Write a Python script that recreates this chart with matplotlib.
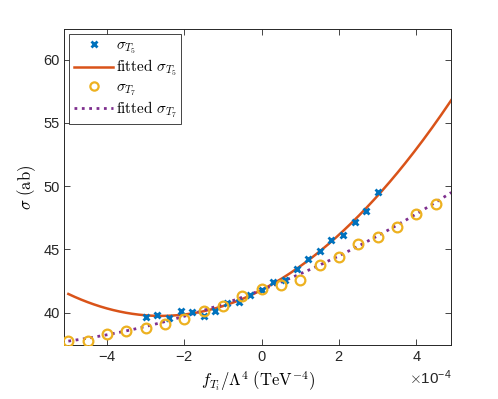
import numpy as np
import matplotlib
matplotlib.use("Agg")
import matplotlib.pyplot as plt
from matplotlib.ticker import ScalarFormatter

plt.rcParams['font.family'] = ['Liberation Sans', 'DejaVu Sans']
plt.rcParams['mathtext.fontset'] = 'cm'
plt.rcParams['axes.unicode_minus'] = False

# sigma_T5 data (x in units of 1e-4 TeV^-4)
x_t5 = [-3.0, -2.7, -2.4, -2.1, -1.8, -1.5, -1.2, -0.9, -0.6, -0.3, 0.0,
        0.3, 0.6, 0.9, 1.2, 1.5, 1.8, 2.1, 2.4, 2.7, 3.0]
y_t5 = [39.64, 39.84, 39.58, 40.12, 40.05, 39.76, 40.13, 40.74, 40.84, 41.40, 41.79,
        42.42, 42.58, 43.45, 44.21, 44.87, 45.74, 46.13, 47.16, 48.05, 49.50]

# sigma_T7 data
x_t7 = [-5.0, -4.5, -4.0, -3.5, -3.0, -2.5, -2.0, -1.5, -1.0, -0.5, 0.0,
        0.5, 1.0, 1.5, 2.0, 2.5, 3.0, 3.5, 4.0, 4.5]
y_t7 = [37.77, 37.79, 38.30, 38.53, 38.77, 39.13, 39.48, 40.10, 40.50, 41.34, 41.87,
        42.20, 42.60, 43.80, 44.40, 45.40, 45.95, 46.79, 47.79, 48.58]

# quadratic fit coefficients (a, b, c) in x units of 1e-4
fit_t5 = [0.3027, 1.578, 41.80]
fit_t7 = [0.0769, 1.1946, 41.80]
fit_range = [-5.0, 4.9]

scale = 1e-4
blue = '#0072BD'
red = '#D95319'
yellow = '#EDB120'
purple = '#7E2F8E'

fig = plt.figure(figsize=(4.98, 3.99), dpi=100)
ax = fig.add_axes([0.1295, 0.1346, 0.7767, 0.792])

xf = np.linspace(fit_range[0], fit_range[1], 300)
yf5 = np.polyval(fit_t5, xf)
yf7 = np.polyval(fit_t7, xf)

ax.plot(np.array(x_t5) * scale, y_t5, 'x', color=blue, ms=5, mew=2.0,
        label=r'$\sigma_{T_5}$', zorder=3)
ax.plot(xf * scale, yf5, '-', color=red, lw=1.8, label=r'$\mathrm{fitted}\ \sigma_{T_5}$', zorder=2)
ax.plot(np.array(x_t7) * scale, y_t7, 'o', color=yellow, ms=7, mew=1.6, mfc='none',
        label=r'$\sigma_{T_7}$', zorder=3)
ax.plot(xf * scale, yf7, ':', color=purple, lw=2.0, label=r'$\mathrm{fitted}\ \sigma_{T_7}$', zorder=2)

ax.set_xlim(-5.1e-4, 4.9e-4)
ax.set_ylim(37.42, 62.4)
ax.set_xticks(np.array([-4, -2, 0, 2, 4]) * scale)
ax.set_yticks([40, 45, 50, 55, 60])

fmt = ScalarFormatter(useMathText=True)
fmt.set_powerlimits((-3, 3))
ax.xaxis.set_major_formatter(fmt)
ax.xaxis.get_offset_text().set_fontsize(11)
ax.xaxis.get_offset_text().set_color('#262626')

ax.tick_params(direction='in', top=True, right=True, length=4, width=0.6,
               colors='#262626', labelsize=10.5)
for s in ax.spines.values():
    s.set_color('#262626')
    s.set_linewidth(0.7)

ax.set_xlabel(r'$f_{T_i}/\Lambda^4\ (\mathrm{TeV}^{-4})$', fontsize=12, labelpad=4)
ax.set_ylabel(r'$\sigma\ (\mathrm{ab})$', fontsize=12, labelpad=4)

leg = ax.legend(loc='upper left', bbox_to_anchor=(0.012, 0.985), borderaxespad=0,
                fontsize=11, handlelength=2.6, labelspacing=0.12, handletextpad=0.15,
                borderpad=0.3, fancybox=False, framealpha=1, edgecolor='#262626',
                markerscale=0.85)
leg.get_frame().set_linewidth(0.6)

fig.savefig('out.png', dpi=100)
